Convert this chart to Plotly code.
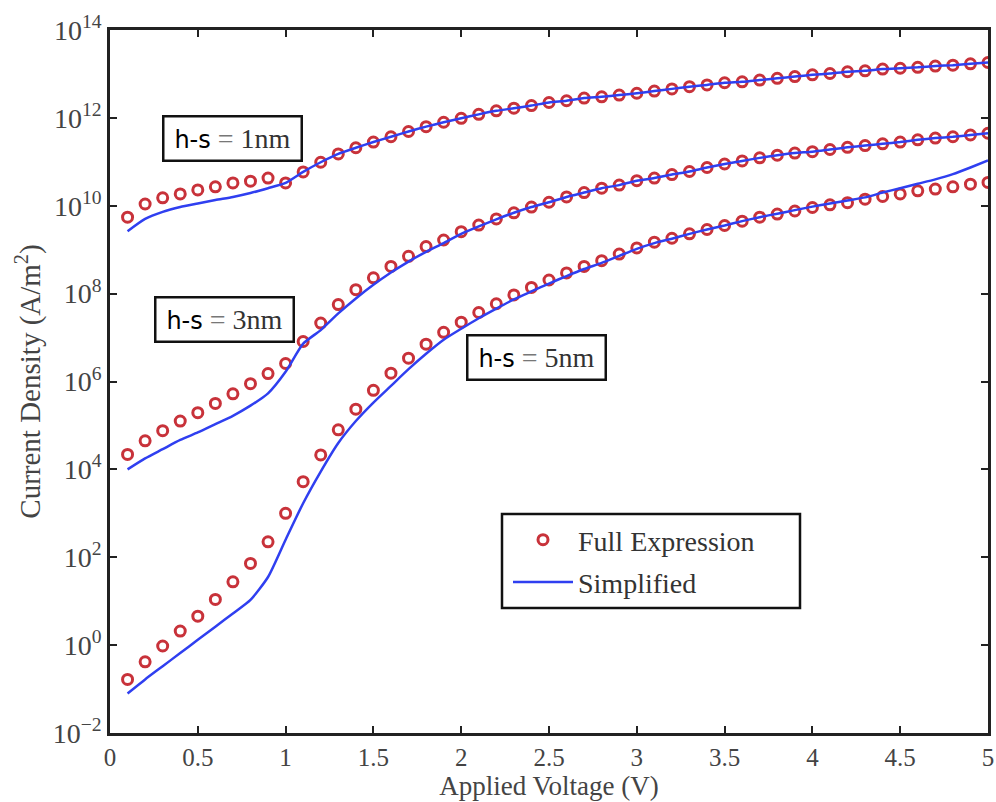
import plotly.graph_objects as go

# Applied voltage (V)
voltage = [0.1, 0.2, 0.3, 0.4, 0.5, 0.6, 0.7, 0.8, 0.9, 1.0,
           1.1, 1.2, 1.3, 1.4, 1.5, 1.6, 1.7, 1.8, 1.9, 2.0,
           2.1, 2.2, 2.3, 2.4, 2.5, 2.6, 2.7, 2.8, 2.9, 3.0,
           3.1, 3.2, 3.3, 3.4, 3.5, 3.6, 3.7, 3.8, 3.9, 4.0,
           4.1, 4.2, 4.3, 4.4, 4.5, 4.6, 4.7, 4.8, 4.9, 5.0]

# log10 of current density (A/m^2)
full_1nm_log = [9.74, 10.04, 10.18, 10.27, 10.36, 10.43, 10.52, 10.56, 10.63, 10.52,
                10.77, 10.99, 11.18, 11.32, 11.45, 11.57, 11.69, 11.80, 11.90, 11.99,
                12.08, 12.16, 12.22, 12.28, 12.35, 12.39, 12.45, 12.48, 12.52, 12.56,
                12.61, 12.66, 12.71, 12.75, 12.80, 12.82, 12.86, 12.90, 12.94, 12.98,
                13.01, 13.05, 13.07, 13.11, 13.13, 13.15, 13.18, 13.20, 13.23, 13.26]
simp_1nm_log = [9.42, 9.70, 9.86, 9.97, 10.05, 10.13, 10.20, 10.29, 10.40, 10.52,
                10.77, 10.99, 11.18, 11.32, 11.45, 11.57, 11.69, 11.80, 11.90, 11.99,
                12.08, 12.16, 12.22, 12.28, 12.35, 12.39, 12.45, 12.48, 12.52, 12.56,
                12.61, 12.66, 12.71, 12.75, 12.80, 12.82, 12.86, 12.90, 12.94, 12.98,
                13.01, 13.05, 13.07, 13.11, 13.13, 13.15, 13.18, 13.20, 13.23, 13.26]

full_3nm_log = [4.34, 4.65, 4.88, 5.10, 5.29, 5.50, 5.72, 5.95, 6.18, 6.41,
                6.91, 7.33, 7.75, 8.09, 8.36, 8.62, 8.85, 9.07, 9.22, 9.41,
                9.56, 9.70, 9.84, 9.97, 10.08, 10.20, 10.30, 10.40, 10.47, 10.57,
                10.63, 10.71, 10.78, 10.87, 10.95, 11.02, 11.09, 11.15, 11.20, 11.23,
                11.28, 11.33, 11.37, 11.41, 11.45, 11.50, 11.54, 11.57, 11.61, 11.65]
simp_3nm_log = [4.00, 4.25, 4.46, 4.67, 4.84, 5.03, 5.22, 5.45, 5.73, 6.22,
                6.86, 7.17, 7.55, 7.89, 8.20, 8.48, 8.73, 8.95, 9.15, 9.36,
                9.53, 9.69, 9.84, 9.97, 10.08, 10.20, 10.30, 10.40, 10.47, 10.57,
                10.63, 10.71, 10.78, 10.87, 10.95, 11.02, 11.09, 11.15, 11.20, 11.23,
                11.28, 11.33, 11.37, 11.41, 11.45, 11.50, 11.54, 11.57, 11.61, 11.65]

full_5nm_log = [-0.78, -0.38, -0.02, 0.32, 0.66, 1.04, 1.44, 1.86, 2.35, 3.00,
                3.72, 4.33, 4.90, 5.37, 5.80, 6.19, 6.53, 6.85, 7.12, 7.35,
                7.57, 7.77, 7.97, 8.14, 8.31, 8.47, 8.62, 8.75, 8.90, 9.04,
                9.17, 9.26, 9.36, 9.46, 9.55, 9.65, 9.74, 9.81, 9.88, 9.96,
                10.02, 10.07, 10.15, 10.21, 10.27, 10.34, 10.38, 10.43, 10.49, 10.53]
simp_5nm_log = [-1.10, -0.78, -0.48, -0.18, 0.12, 0.42, 0.72, 1.03, 1.55, 2.40,
                3.23, 3.95, 4.60, 5.10, 5.52, 5.90, 6.28, 6.63, 6.95, 7.20,
                7.44, 7.66, 7.87, 8.05, 8.23, 8.40, 8.56, 8.70, 8.86, 9.02,
                9.15, 9.25, 9.36, 9.46, 9.55, 9.65, 9.74, 9.82, 9.90, 9.98,
                10.05, 10.12, 10.19, 10.30, 10.40, 10.50, 10.60, 10.72, 10.87, 11.03]

x_tick_vals = [0, 0.5, 1, 1.5, 2, 2.5, 3, 3.5, 4, 4.5, 5]
x_tick_text = ["0", "0.5", "1", "1.5", "2", "2.5", "3", "3.5", "4", "4.5", "5"]
y_tick_exps = [-2, 0, 2, 4, 6, 8, 10, 12, 14]
y_tick_text = ["10<sup>−2</sup>", "10<sup>0</sup>", "10<sup>2</sup>", "10<sup>4</sup>",
               "10<sup>6</sup>", "10<sup>8</sup>", "10<sup>10</sup>", "10<sup>12</sup>",
               "10<sup>14</sup>"]

labels = ["h-s = 1nm", "h-s = 3nm", "h-s = 5nm"]

RED = "#c8323a"
BLUE = "#2f3ff0"
SERIF = "Liberation Serif, Times New Roman, serif"

def lin(vals):
    return [10 ** v for v in vals]

fig = go.Figure()

full_sets = [full_1nm_log, full_3nm_log, full_5nm_log]
simp_sets = [simp_1nm_log, simp_3nm_log, simp_5nm_log]

for i, vals in enumerate(full_sets):
    fig.add_trace(go.Scatter(
        x=voltage, y=lin(vals), mode="markers", name="Full Expression",
        legendgroup="full", showlegend=(i == 0),
        marker=dict(symbol="circle-open", size=10, color=RED, line=dict(width=3, color=RED)),
    ))
for i, vals in enumerate(simp_sets):
    fig.add_trace(go.Scatter(
        x=voltage, y=lin(vals), mode="lines", name="Simplified",
        legendgroup="simp", showlegend=(i == 0),
        line=dict(color=BLUE, width=2.5, shape="spline", smoothing=0.6),
    ))

FW, FH = 996, 802
# plot-area in page pixels
L, R, T, B = 110, 988, 30, 733

def px(xp):
    return (xp - L) / (R - L)
def py(yp):
    return (B - yp) / (B - T)

box_centers = [(232, 138.5), (224.5, 319), (536, 357.5)]
for lab, (cx, cy) in zip(labels, box_centers):
    name, rest = lab.split(" = ")
    fig.add_annotation(
        xref="paper", yref="paper", x=px(cx), y=py(cy),
        xanchor="center", yanchor="middle", showarrow=False,
        text='<span style="font-family:DejaVu Sans;font-size:24px;color:#000">' + name + '</span>'
             '<span style="color:#777"> = </span>' + rest,
        font=dict(family=SERIF, size=28, color="#333"),
        width=134, height=40, borderpad=1,
        bordercolor="#111", borderwidth=2.5, bgcolor="white",
    )

# legend frame
fig.add_shape(type="rect", xref="paper", yref="paper",
              x0=px(502), x1=px(800), y0=py(608), y1=py(514),
              line=dict(color="#111", width=2.5), fillcolor="rgba(0,0,0,0)")

fig.update_layout(
    width=FW, height=FH,
    margin=dict(l=L, r=FW - R, t=T, b=FH - B, autoexpand=False),
    paper_bgcolor="white", plot_bgcolor="white",
    font=dict(family=SERIF, color="#333"),
    showlegend=True,
    legend=dict(
        x=px(508), y=py(515), xanchor="left", yanchor="top",
        bgcolor="rgba(0,0,0,0)", borderwidth=0,
        font=dict(family=SERIF, size=28, color="#333"),
        traceorder="grouped", tracegroupgap=3, itemwidth=60,
    ),
    xaxis=dict(
        range=[0, 5], tickvals=x_tick_vals, ticktext=x_tick_text,
        ticks="inside", ticklen=7, tickwidth=2, tickcolor="#222",
        showline=True, linewidth=2.5, linecolor="#222", mirror="ticks",
        showgrid=False, zeroline=False, automargin=False,
        tickfont=dict(family=SERIF, size=25, color="#444"),
        title=dict(text="Applied Voltage (V)", font=dict(family=SERIF, size=27, color="#444"),
                   standoff=4),
    ),
    yaxis=dict(
        type="log", range=[-2, 14], automargin=False,
        tickvals=[10 ** e for e in y_tick_exps], ticktext=y_tick_text,
        ticks="inside", ticklen=7, tickwidth=2, tickcolor="#222",
        showline=True, linewidth=2.5, linecolor="#222", mirror="ticks",
        showgrid=False, zeroline=False,
        tickfont=dict(family=SERIF, size=28, color="#444"),
        title=dict(text="Current Density (A/m<sup>2</sup>)",
                   font=dict(family=SERIF, size=29, color="#444"), standoff=4),
    ),
)

fig.write_html(
    "out.html",
    config={"displayModeBar": False},
    post_script="document.body.style.margin='0';document.body.style.overflow='hidden';",
)
